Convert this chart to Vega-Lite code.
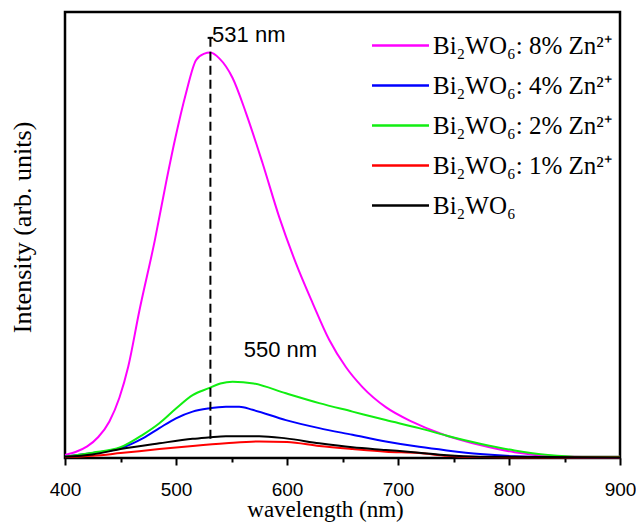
{
  "$schema": "https://vega.github.io/schema/vega-lite/v6.json",
  "width": 555,
  "height": 446,
  "autosize": "none",
  "padding": {"left": 65, "top": 12, "right": 16, "bottom": 65},
  "background": "white",
  "config": {
    "view": {"stroke": "black", "strokeWidth": 2.5}
  },
  "encoding": {
    "x": {
      "field": "w",
      "type": "quantitative",
      "scale": {"domain": [400, 900], "nice": false, "zero": false},
      "axis": {
        "values": [400, 450, 500, 550, 600, 650, 700, 750, 800, 850, 900],
        "labelExpr": "datum.value % 100 === 0 ? datum.label : ''",
        "tickSize": {"condition": {"test": "datum.value % 100 === 0", "value": 7}, "value": 4},
        "tickWidth": 2,
        "tickColor": "black",
        "domain": false,
        "grid": false,
        "labelFont": "Liberation Sans",
        "labelFontSize": 19,
        "labelColor": "black",
        "labelPadding": 15,
        "labelFlush": false,
        "labelOverlap": false,
        "labelBound": false,
        "title": "wavelength (nm)",
        "titleFont": "Liberation Serif",
        "titleFontSize": 23,
        "titleFontWeight": "normal",
        "titleColor": "black",
        "titleX": 260,
        "titleY": 58,
        "titleBaseline": "alphabetic"
      }
    },
    "y": {
      "field": "v",
      "type": "quantitative",
      "scale": {"domain": [0, 100], "nice": false},
      "axis": {
        "ticks": false,
        "labels": false,
        "domain": false,
        "grid": false,
        "title": "Intensity (arb. units)",
        "titleFont": "Liberation Serif",
        "titleFontSize": 26,
        "titleFontWeight": "normal",
        "titleColor": "black",
        "titlePadding": 30,
        "titleY": 215
      }
    }
  },
  "layer": [
    {
      "data": {
        "values": [
          {"s": "Bi₂WO₆: 8% Zn²⁺", "w": 400, "v": 0.7},
          {"s": "Bi₂WO₆: 8% Zn²⁺", "w": 410, "v": 1.4},
          {"s": "Bi₂WO₆: 8% Zn²⁺", "w": 420, "v": 2.6},
          {"s": "Bi₂WO₆: 8% Zn²⁺", "w": 430, "v": 4.7},
          {"s": "Bi₂WO₆: 8% Zn²⁺", "w": 440, "v": 8.2},
          {"s": "Bi₂WO₆: 8% Zn²⁺", "w": 449, "v": 13.5},
          {"s": "Bi₂WO₆: 8% Zn²⁺", "w": 457, "v": 20.5},
          {"s": "Bi₂WO₆: 8% Zn²⁺", "w": 467, "v": 33.0},
          {"s": "Bi₂WO₆: 8% Zn²⁺", "w": 481, "v": 48.9},
          {"s": "Bi₂WO₆: 8% Zn²⁺", "w": 491, "v": 61.7},
          {"s": "Bi₂WO₆: 8% Zn²⁺", "w": 499, "v": 71.3},
          {"s": "Bi₂WO₆: 8% Zn²⁺", "w": 509, "v": 81.8},
          {"s": "Bi₂WO₆: 8% Zn²⁺", "w": 518, "v": 89.2},
          {"s": "Bi₂WO₆: 8% Zn²⁺", "w": 525, "v": 90.6},
          {"s": "Bi₂WO₆: 8% Zn²⁺", "w": 531, "v": 90.9},
          {"s": "Bi₂WO₆: 8% Zn²⁺", "w": 539, "v": 89.6},
          {"s": "Bi₂WO₆: 8% Zn²⁺", "w": 551, "v": 85.2},
          {"s": "Bi₂WO₆: 8% Zn²⁺", "w": 563, "v": 77.4},
          {"s": "Bi₂WO₆: 8% Zn²⁺", "w": 578, "v": 66.1},
          {"s": "Bi₂WO₆: 8% Zn²⁺", "w": 593, "v": 54.0},
          {"s": "Bi₂WO₆: 8% Zn²⁺", "w": 608, "v": 43.7},
          {"s": "Bi₂WO₆: 8% Zn²⁺", "w": 623, "v": 34.8},
          {"s": "Bi₂WO₆: 8% Zn²⁺", "w": 638, "v": 26.5},
          {"s": "Bi₂WO₆: 8% Zn²⁺", "w": 653, "v": 20.4},
          {"s": "Bi₂WO₆: 8% Zn²⁺", "w": 668, "v": 15.9},
          {"s": "Bi₂WO₆: 8% Zn²⁺", "w": 689, "v": 11.4},
          {"s": "Bi₂WO₆: 8% Zn²⁺", "w": 713, "v": 8.1},
          {"s": "Bi₂WO₆: 8% Zn²⁺", "w": 737, "v": 5.6},
          {"s": "Bi₂WO₆: 8% Zn²⁺", "w": 760, "v": 3.8},
          {"s": "Bi₂WO₆: 8% Zn²⁺", "w": 774, "v": 2.9},
          {"s": "Bi₂WO₆: 8% Zn²⁺", "w": 805, "v": 1.3},
          {"s": "Bi₂WO₆: 8% Zn²⁺", "w": 835, "v": 0.5},
          {"s": "Bi₂WO₆: 8% Zn²⁺", "w": 866, "v": 0.3},
          {"s": "Bi₂WO₆: 8% Zn²⁺", "w": 900, "v": 0.3},

          {"s": "Bi₂WO₆: 4% Zn²⁺", "w": 400, "v": 0.3},
          {"s": "Bi₂WO₆: 4% Zn²⁺", "w": 425, "v": 1.1},
          {"s": "Bi₂WO₆: 4% Zn²⁺", "w": 450, "v": 2.2},
          {"s": "Bi₂WO₆: 4% Zn²⁺", "w": 470, "v": 4.4},
          {"s": "Bi₂WO₆: 4% Zn²⁺", "w": 485, "v": 6.7},
          {"s": "Bi₂WO₆: 4% Zn²⁺", "w": 500, "v": 8.9},
          {"s": "Bi₂WO₆: 4% Zn²⁺", "w": 515, "v": 10.4},
          {"s": "Bi₂WO₆: 4% Zn²⁺", "w": 529, "v": 11.1},
          {"s": "Bi₂WO₆: 4% Zn²⁺", "w": 545, "v": 11.5},
          {"s": "Bi₂WO₆: 4% Zn²⁺", "w": 557, "v": 11.5},
          {"s": "Bi₂WO₆: 4% Zn²⁺", "w": 569, "v": 10.8},
          {"s": "Bi₂WO₆: 4% Zn²⁺", "w": 599, "v": 8.5},
          {"s": "Bi₂WO₆: 4% Zn²⁺", "w": 629, "v": 6.7},
          {"s": "Bi₂WO₆: 4% Zn²⁺", "w": 659, "v": 5.2},
          {"s": "Bi₂WO₆: 4% Zn²⁺", "w": 689, "v": 3.7},
          {"s": "Bi₂WO₆: 4% Zn²⁺", "w": 719, "v": 2.5},
          {"s": "Bi₂WO₆: 4% Zn²⁺", "w": 744, "v": 1.7},
          {"s": "Bi₂WO₆: 4% Zn²⁺", "w": 774, "v": 0.9},
          {"s": "Bi₂WO₆: 4% Zn²⁺", "w": 805, "v": 0.4},
          {"s": "Bi₂WO₆: 4% Zn²⁺", "w": 835, "v": 0.2},
          {"s": "Bi₂WO₆: 4% Zn²⁺", "w": 900, "v": 0.1},

          {"s": "Bi₂WO₆: 2% Zn²⁺", "w": 400, "v": 0.3},
          {"s": "Bi₂WO₆: 2% Zn²⁺", "w": 425, "v": 1.2},
          {"s": "Bi₂WO₆: 2% Zn²⁺", "w": 450, "v": 2.4},
          {"s": "Bi₂WO₆: 2% Zn²⁺", "w": 470, "v": 5.2},
          {"s": "Bi₂WO₆: 2% Zn²⁺", "w": 485, "v": 7.8},
          {"s": "Bi₂WO₆: 2% Zn²⁺", "w": 500, "v": 11.1},
          {"s": "Bi₂WO₆: 2% Zn²⁺", "w": 515, "v": 14.1},
          {"s": "Bi₂WO₆: 2% Zn²⁺", "w": 529, "v": 15.6},
          {"s": "Bi₂WO₆: 2% Zn²⁺", "w": 540, "v": 16.7},
          {"s": "Bi₂WO₆: 2% Zn²⁺", "w": 551, "v": 17.1},
          {"s": "Bi₂WO₆: 2% Zn²⁺", "w": 570, "v": 16.7},
          {"s": "Bi₂WO₆: 2% Zn²⁺", "w": 599, "v": 14.5},
          {"s": "Bi₂WO₆: 2% Zn²⁺", "w": 629, "v": 12.3},
          {"s": "Bi₂WO₆: 2% Zn²⁺", "w": 659, "v": 10.4},
          {"s": "Bi₂WO₆: 2% Zn²⁺", "w": 689, "v": 8.5},
          {"s": "Bi₂WO₆: 2% Zn²⁺", "w": 719, "v": 6.7},
          {"s": "Bi₂WO₆: 2% Zn²⁺", "w": 744, "v": 5.0},
          {"s": "Bi₂WO₆: 2% Zn²⁺", "w": 774, "v": 3.2},
          {"s": "Bi₂WO₆: 2% Zn²⁺", "w": 805, "v": 1.7},
          {"s": "Bi₂WO₆: 2% Zn²⁺", "w": 835, "v": 0.7},
          {"s": "Bi₂WO₆: 2% Zn²⁺", "w": 866, "v": 0.3},
          {"s": "Bi₂WO₆: 2% Zn²⁺", "w": 900, "v": 0.3},

          {"s": "Bi₂WO₆: 1% Zn²⁺", "w": 400, "v": 0.2},
          {"s": "Bi₂WO₆: 1% Zn²⁺", "w": 425, "v": 0.5},
          {"s": "Bi₂WO₆: 1% Zn²⁺", "w": 450, "v": 1.1},
          {"s": "Bi₂WO₆: 1% Zn²⁺", "w": 485, "v": 2.0},
          {"s": "Bi₂WO₆: 1% Zn²⁺", "w": 515, "v": 2.7},
          {"s": "Bi₂WO₆: 1% Zn²⁺", "w": 545, "v": 3.3},
          {"s": "Bi₂WO₆: 1% Zn²⁺", "w": 575, "v": 3.7},
          {"s": "Bi₂WO₆: 1% Zn²⁺", "w": 600, "v": 3.6},
          {"s": "Bi₂WO₆: 1% Zn²⁺", "w": 629, "v": 2.7},
          {"s": "Bi₂WO₆: 1% Zn²⁺", "w": 659, "v": 2.0},
          {"s": "Bi₂WO₆: 1% Zn²⁺", "w": 689, "v": 1.4},
          {"s": "Bi₂WO₆: 1% Zn²⁺", "w": 719, "v": 1.1},
          {"s": "Bi₂WO₆: 1% Zn²⁺", "w": 744, "v": 0.5},
          {"s": "Bi₂WO₆: 1% Zn²⁺", "w": 774, "v": 0.2},
          {"s": "Bi₂WO₆: 1% Zn²⁺", "w": 900, "v": 0.1},

          {"s": "Bi₂WO₆", "w": 400, "v": 0.3},
          {"s": "Bi₂WO₆", "w": 425, "v": 0.8},
          {"s": "Bi₂WO₆", "w": 450, "v": 2.0},
          {"s": "Bi₂WO₆", "w": 485, "v": 3.3},
          {"s": "Bi₂WO₆", "w": 515, "v": 4.3},
          {"s": "Bi₂WO₆", "w": 529, "v": 4.6},
          {"s": "Bi₂WO₆", "w": 545, "v": 4.9},
          {"s": "Bi₂WO₆", "w": 575, "v": 4.9},
          {"s": "Bi₂WO₆", "w": 599, "v": 4.4},
          {"s": "Bi₂WO₆", "w": 629, "v": 3.3},
          {"s": "Bi₂WO₆", "w": 659, "v": 2.4},
          {"s": "Bi₂WO₆", "w": 689, "v": 1.8},
          {"s": "Bi₂WO₆", "w": 719, "v": 1.2},
          {"s": "Bi₂WO₆", "w": 744, "v": 0.6},
          {"s": "Bi₂WO₆", "w": 774, "v": 0.3},
          {"s": "Bi₂WO₆", "w": 900, "v": 0.1}
        ]
      },
      "mark": {"type": "line", "strokeWidth": 2, "interpolate": "monotone"},
      "encoding": {
        "color": {
          "field": "s",
          "type": "nominal",
          "sort": null,
          "scale": {
            "domain": ["Bi₂WO₆: 8% Zn²⁺", "Bi₂WO₆: 4% Zn²⁺", "Bi₂WO₆: 2% Zn²⁺", "Bi₂WO₆: 1% Zn²⁺", "Bi₂WO₆"],
            "range": ["#ff00ff", "#0000ff", "#11ee11", "#ff0000", "#000000"]
          },
          "legend": {
            "title": null,
            "orient": "none",
            "legendX": 306,
            "legendY": 18,
            "padding": 0,
            "symbolType": "M-2,0H2",
            "symbolSize": 812,
            "symbolStrokeWidth": 2.5,
            "symbolOffset": 14,
            "labelOffset": 17,
            "labelFont": "Liberation Serif",
            "labelFontSize": 25,
            "labelColor": "black",
            "labelLimit": 400,
            "rowPadding": 11
          }
        }
      }
    },
    {
      "data": {"values": [{"w": 531, "v": 94.2, "v2": 3.6}]},
      "mark": {"type": "rule", "strokeDash": [9, 5], "strokeWidth": 2, "color": "black"},
      "encoding": {"y2": {"field": "v2"}}
    },
    {
      "data": {"values": [{"w": 528.5, "w2": 533.5, "v": 94.2}]},
      "mark": {"type": "rule", "strokeWidth": 2, "color": "black"},
      "encoding": {"x2": {"field": "w2"}}
    },
    {
      "data": {
        "values": [
          {"w": 532.5, "v": 93.3, "t": "531 nm"},
          {"w": 561, "v": 22.6, "t": "550 nm"}
        ]
      },
      "mark": {"type": "text", "font": "Liberation Sans", "fontSize": 22, "align": "left", "baseline": "alphabetic", "color": "black"},
      "encoding": {"text": {"field": "t"}}
    }
  ]
}
